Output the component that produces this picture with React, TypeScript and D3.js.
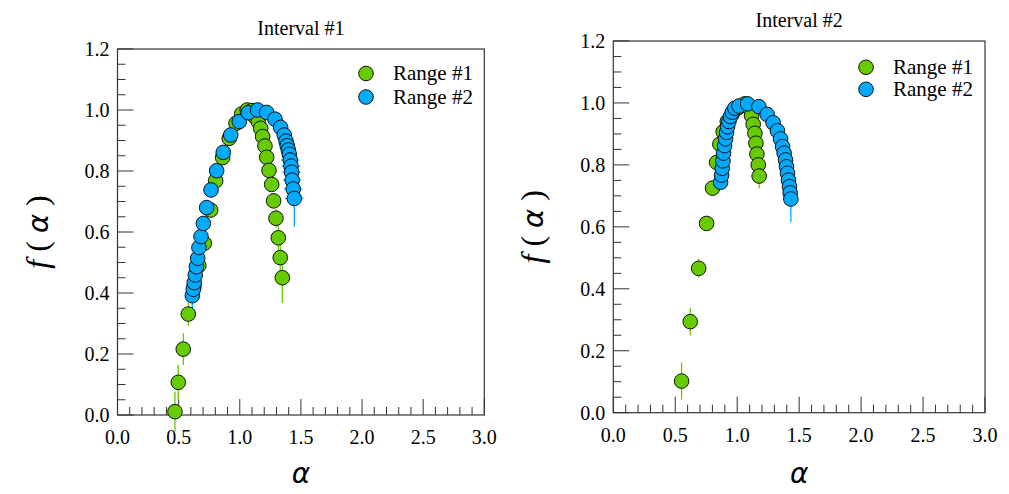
import React from "react";
import * as d3 from "d3";

// ---------- data ----------
const i1r1Alpha = [0.470, 0.497, 0.538, 0.579, 0.625, 0.665, 0.710, 0.762, 0.803, 0.860, 0.914, 0.969, 1.015, 1.061, 1.100, 1.124, 1.151, 1.171, 1.187, 1.206, 1.220, 1.239, 1.261, 1.277, 1.296, 1.315, 1.331, 1.348];
const i1r1F = [0.011, 0.107, 0.216, 0.331, 0.420, 0.490, 0.563, 0.672, 0.768, 0.844, 0.907, 0.956, 0.987, 1.000, 0.998, 0.978, 0.962, 0.940, 0.913, 0.882, 0.845, 0.802, 0.756, 0.702, 0.645, 0.581, 0.516, 0.450];
const i1r1Err = [0.065, 0.058, 0.052, 0.038, 0.02, 0.01, 0.01, 0.01, 0.01, 0, 0, 0, 0, 0, 0, 0, 0, 0, 0, 0, 0, 0, 0.01, 0.02, 0.03, 0.04, 0.05, 0.083];
const i1r1XErr = i1r1Alpha.map(() => 0);

const i1r2Alpha = [0.612, 0.620, 0.628, 0.636, 0.645, 0.656, 0.666, 0.683, 0.702, 0.729, 0.765, 0.811, 0.865, 0.926, 0.996, 1.070, 1.146, 1.220, 1.288, 1.334, 1.364, 1.378, 1.388, 1.397, 1.405, 1.413, 1.419, 1.424, 1.429, 1.437, 1.446];
const i1r2F = [0.391, 0.412, 0.434, 0.459, 0.486, 0.514, 0.549, 0.585, 0.628, 0.680, 0.738, 0.801, 0.861, 0.918, 0.962, 0.991, 1.000, 0.992, 0.970, 0.943, 0.918, 0.898, 0.883, 0.869, 0.855, 0.836, 0.816, 0.796, 0.770, 0.741, 0.710];
const i1r2Err = [0.06, 0.02, 0.01, 0, 0, 0, 0, 0, 0, 0, 0, 0, 0, 0, 0, 0, 0, 0, 0, 0, 0, 0, 0, 0, 0.01, 0.01, 0.02, 0.02, 0.03, 0.04, 0.093];
const i1r2XErr = [0, 0, 0, 0, 0, 0, 0, 0, 0, 0, 0, 0, 0, 0, 0, 0, 0, 0, 0, 0, 0, 0, 0, 0.02, 0.03, 0.075, 0.075, 0.075, 0.075, 0.075, 0.075];

const i2r1Alpha = [0.551, 0.621, 0.689, 0.753, 0.801, 0.834, 0.860, 0.887, 0.920, 0.960, 1.010, 1.060, 1.095, 1.116, 1.129, 1.143, 1.151, 1.159, 1.170, 1.177];
const i2r1F = [0.102, 0.294, 0.466, 0.611, 0.725, 0.808, 0.867, 0.907, 0.940, 0.965, 0.985, 0.997, 0.985, 0.959, 0.931, 0.902, 0.870, 0.835, 0.800, 0.764];
const i2r1Err = [0.06, 0.045, 0.03, 0.01, 0.01, 0, 0, 0, 0, 0, 0, 0, 0, 0, 0, 0, 0, 0.01, 0.02, 0.04];
const i2r1XErr = i2r1Alpha.map(() => 0);

const i2r2Alpha = [0.866, 0.874, 0.879, 0.885, 0.890, 0.898, 0.906, 0.914, 0.922, 0.933, 0.946, 0.960, 0.981, 1.014, 1.084, 1.175, 1.242, 1.290, 1.325, 1.350, 1.366, 1.379, 1.390, 1.398, 1.406, 1.414, 1.422, 1.427, 1.433];
const i2r2F = [0.744, 0.767, 0.789, 0.813, 0.838, 0.862, 0.884, 0.905, 0.923, 0.940, 0.956, 0.970, 0.983, 0.990, 0.997, 0.988, 0.963, 0.936, 0.910, 0.884, 0.859, 0.838, 0.816, 0.794, 0.773, 0.751, 0.730, 0.710, 0.690];
const i2r2Err = [0.01, 0, 0, 0, 0, 0, 0, 0, 0, 0, 0, 0, 0, 0, 0, 0, 0, 0, 0, 0, 0, 0, 0, 0, 0.01, 0.01, 0.02, 0.03, 0.075];
const i2r2XErr = i2r2Alpha.map(() => 0);

const seriesNames = ["Range #1", "Range #2"];
const seriesColors = ["#66cc00", "#00aaff"];
const panelTitles = ["Interval #1", "Interval #2"];
const xMajorTicks = [0, 0.5, 1.0, 1.5, 2.0, 2.5, 3.0];
const yMajorTicks = [0, 0.2, 0.4, 0.6, 0.8, 1.0, 1.2];

type Series = { a: number[]; f: number[]; e: number[]; xe: number[] };

const FONT = "'Liberation Serif', 'Times New Roman', serif";

function Panel(props: {
  title: string;
  x0: number; x1: number; y0: number; y1: number;
  series: Series[];
  legendX: number; legendY: number; legendGap: number;
  titleY: number; ylabX: number;
}) {
  const { x0, x1, y0, y1, series } = props;
  const x = d3.scaleLinear().domain([0, 3]).range([x0, x1]);
  const y = d3.scaleLinear().domain([0, 1.2]).range([y0, y1]);
  const xMinor = d3.range(0, 30.5, 1).map((v) => v / 10);
  const yMinor = d3.range(0, 24.5, 1).map((v) => v / 20);
  const isMajorX = (v: number) => Math.abs(v * 2 - Math.round(v * 2)) < 1e-6;
  const isMajorY = (v: number) => Math.abs(v * 5 - Math.round(v * 5)) < 1e-6;
  const r = 7.3;
  const axisColor = "#333";
  return (
    <g>
      <text x={(x0 + x1) / 2} y={props.titleY} textAnchor="middle" fontFamily={FONT} fontSize={20}>
        {props.title}
      </text>
      {/* frame */}
      <rect x={x0} y={y1} width={x1 - x0} height={y0 - y1} fill="none" stroke={axisColor} strokeWidth={1.2} />
      {/* x ticks */}
      {xMinor.map((v, i) => {
        const len = isMajorX(v) ? 16 : 8;
        return <line key={"xt" + i} x1={x(v)} x2={x(v)} y1={y0} y2={y0 - len} stroke={axisColor} strokeWidth={1} />;
      })}
      {yMinor.map((v, i) => {
        const len = isMajorY(v) ? 16 : 8;
        return <line key={"yt" + i} x1={x0} x2={x0 + len} y1={y(v)} y2={y(v)} stroke={axisColor} strokeWidth={1} />;
      })}
      {xMajorTicks.map((v, i) => (
        <text key={"xl" + i} x={x(v)} y={y0 + 29} textAnchor="middle" fontFamily={FONT} fontSize={20}>
          {v.toFixed(1)}
        </text>
      ))}
      {yMajorTicks.map((v, i) => (
        <text key={"yl" + i} x={x0 - 8} y={y(v) + 7} textAnchor="end" fontFamily={FONT} fontSize={20}>
          {v.toFixed(1)}
        </text>
      ))}
      {/* axis labels */}
      <text
        transform={`translate(${props.ylabX},${(y0 + y1) / 2}) rotate(-90)`}
        textAnchor="middle"
        fontFamily={FONT}
        fontSize={32}
      >
        <tspan fontStyle="italic">f</tspan> ( <tspan fontStyle="italic" fontFamily="'DejaVu Sans', sans-serif" fontSize={29}>α</tspan> )
      </text>
      <text x={(x0 + x1) / 2} y={483} textAnchor="middle" fontFamily="'DejaVu Sans', sans-serif" fontStyle="italic" fontSize={28}>
        α
      </text>
      {/* error bars */}
      {series.map((s, si) => (
        <g key={"eb" + si}>
          {s.a.map((a, i) => (
            <g key={i}>
              {s.e[i] > 0 && (
                <line x1={x(a)} x2={x(a)} y1={y(s.f[i] - s.e[i])} y2={y(s.f[i] + s.e[i])} stroke={seriesColors[si]} strokeWidth={1.3} />
              )}
              {s.xe[i] > 0 && (
                <line x1={x(a - s.xe[i])} x2={x(a + s.xe[i])} y1={y(s.f[i])} y2={y(s.f[i])} stroke={seriesColors[si]} strokeWidth={1.3} />
              )}
            </g>
          ))}
        </g>
      ))}
      {/* markers */}
      {series.map((s, si) => (
        <g key={"mk" + si}>
          {s.a.map((a, i) => (
            <circle key={i} cx={x(a)} cy={y(s.f[i])} r={r} fill={seriesColors[si]} stroke="#111" strokeWidth={1} />
          ))}
        </g>
      ))}
      {/* legend */}
      {seriesNames.map((n, i) => (
        <g key={"lg" + i}>
          <circle cx={props.legendX} cy={props.legendY + i * props.legendGap} r={r} fill={seriesColors[i]} stroke="#111" strokeWidth={1} />
          <text x={props.legendX + 27} y={props.legendY + i * props.legendGap + 6.5} fontFamily={FONT} fontSize={21}>
            {n}
          </text>
        </g>
      ))}
    </g>
  );
}

export default function App() {
  const p1: Series[] = [
    { a: i1r1Alpha, f: i1r1F, e: i1r1Err, xe: i1r1XErr },
    { a: i1r2Alpha, f: i1r2F, e: i1r2Err, xe: i1r2XErr },
  ];
  const p2: Series[] = [
    { a: i2r1Alpha, f: i2r1F, e: i2r1Err, xe: i2r1XErr },
    { a: i2r2Alpha, f: i2r2F, e: i2r2Err, xe: i2r2XErr },
  ];
  return (
    <svg width={1009} height={494} style={{ position: "absolute", left: 0, top: 0, background: "#fff" }}>
      <rect width={1009} height={494} fill="#fff" />
      <Panel title={panelTitles[0]} x0={117.5} x1={484.3} y0={415} y1={49} series={p1}
        legendX={366} legendY={73.5} legendGap={23.5} titleY={35} ylabX={48} />
      <Panel title={panelTitles[1]} x0={613.3} x1={985} y0={412.7} y1={41} series={p2}
        legendX={866} legendY={67.3} legendGap={22} titleY={27} ylabX={543} />
    </svg>
  );
}
